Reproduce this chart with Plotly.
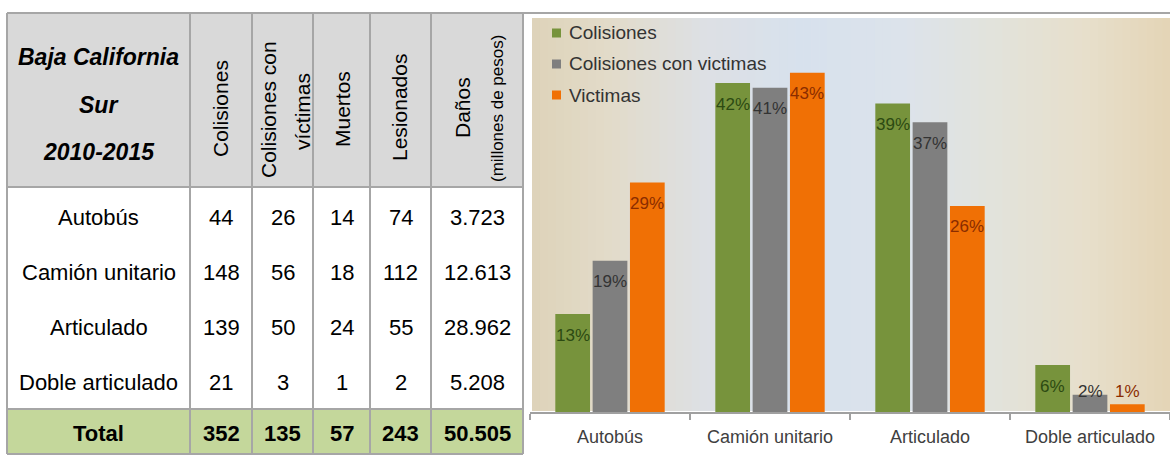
import math
import plotly.graph_objects as go

W, H = 1170, 455

# ---------------- data ----------------
row_labels = ["Autobús", "Camión unitario", "Articulado", "Doble articulado"]
colisiones = [44, 148, 139, 21]
colisiones_victimas = [26, 56, 50, 3]
muertos = [14, 18, 24, 1]
lesionados = [74, 112, 55, 2]
danos = [3.723, 12.613, 28.962, 5.208]
total_row = ["Total", "352", "135", "57", "243", "50.505"]

categories = ["Autobús", "Camión unitario", "Articulado", "Doble articulado"]
series_names = ["Colisiones", "Colisiones con victimas", "Victimas"]
pct_colisiones = [12.5, 42.0, 39.4, 6.0]
pct_col_victimas = [19.3, 41.4, 37.0, 2.2]
pct_victimas = [29.3, 43.3, 26.3, 1.0]

bar_colors = ["#77933c", "#7f7f7f", "#f07005"]
label_colors = ["#2c4a12", "#333333", "#8a2c00"]

# ---------------- helpers ----------------
def px(x):
    return x / W

def py(y):
    return 1 - y / H

FONT = "Liberation Sans, Arial, sans-serif"

fig = go.Figure()

# ---------------- chart ----------------
series = [pct_colisiones, pct_col_victimas, pct_victimas]
for name, vals, col in zip(series_names, series, bar_colors):
    fig.add_trace(go.Bar(x=categories, y=vals, name=name, marker=dict(color=col, line=dict(width=0)),
                         showlegend=False, hoverinfo="x+y+name"))

bargap = 0.3
cat_px = (W - 530) / len(categories)
slot = cat_px * (1 - bargap) / 3

annotations = []
for i, (vals, lc) in enumerate(zip(series, label_colors)):
    for cat, v in zip(categories, vals):
        lab = f"{math.floor(v + 0.5)}%"
        big = v >= 4
        annotations.append(dict(x=cat, y=v if big else 0, xref="x", yref="y", text=lab, showarrow=False,
                                xshift=(i - 1) * slot, yshift=-21 if big else 21,
                                font=dict(family=FONT, size=17, color=lc)))

# background gradient for chart area
stops = [(0.0, (222, 211, 185)), (0.12, (226, 219, 201)), (0.27, (221, 224, 228)),
         (0.42, (215, 225, 237)), (0.58, (220, 227, 235)), (0.72, (226, 227, 220)),
         (0.87, (231, 223, 203)), (1.0, (228, 213, 182))]

def grad(t):
    for (t0, c0), (t1, c1) in zip(stops[:-1], stops[1:]):
        if t0 <= t <= t1:
            f = (t - t0) / (t1 - t0)
            return "rgb(%d,%d,%d)" % tuple(round(a + (b - a) * f) for a, b in zip(c0, c1))
    return "rgb(%d,%d,%d)" % stops[-1][1]

shapes = []
n = 80
x0p, x1p = 532, 1170
for k in range(n):
    a = x0p + (x1p - x0p) * k / n
    b = x0p + (x1p - x0p) * (k + 1) / n + 0.8
    shapes.append(dict(type="rect", xref="paper", yref="paper", x0=px(a), x1=px(min(b, W)),
                       y0=py(411), y1=py(18), fillcolor=grad((k + 0.5) / n), line=dict(width=0),
                       layer="below"))

# ---------------- table ----------------
border = "#a6a6a6"
col_x = [7, 190, 252, 313, 370, 431, 523]
t_top, h_bot, tot_top, t_bot = 13, 187, 409, 454

shapes.append(dict(type="rect", xref="paper", yref="paper", x0=px(col_x[0]), x1=px(col_x[-1]),
                   y0=py(h_bot), y1=py(t_top), fillcolor="#d9d9d9", line=dict(width=0), layer="below"))
shapes.append(dict(type="rect", xref="paper", yref="paper", x0=px(col_x[0]), x1=px(col_x[-1]),
                   y0=py(t_bot), y1=py(tot_top), fillcolor="#c4d79b", line=dict(width=0), layer="below"))

def hline(y, xa, xb):
    shapes.append(dict(type="line", xref="paper", yref="paper", x0=px(xa), x1=px(xb), y0=py(y), y1=py(y),
                       line=dict(color=border, width=2)))

def vline(x, ya, yb):
    shapes.append(dict(type="line", xref="paper", yref="paper", x0=px(x), x1=px(x), y0=py(ya), y1=py(yb),
                       line=dict(color=border, width=2)))

hline(t_top, col_x[0], W)
hline(h_bot, col_x[0], col_x[-1])
hline(tot_top, col_x[0], col_x[-1])
hline(t_bot, col_x[0], col_x[-1])
for x in col_x:
    vline(x, t_top, t_bot)

def txt(x, y, s, size=21, angle=0, family=FONT, color="#000000", xanchor="center"):
    annotations.append(dict(x=px(x), y=py(y), xref="paper", yref="paper", text=s, showarrow=False,
                            textangle=angle, xanchor=xanchor, yanchor="middle",
                            font=dict(family=family, size=size, color=color)))

col_c = [(a + b) / 2 for a, b in zip(col_x[:-1], col_x[1:])]

# header
txt(col_c[0], 57, "<b><i>Baja California</i></b>", 23)
txt(col_c[0], 105, "<b><i>Sur</i></b>", 23)
txt(col_c[0], 152, "<b><i>2010-2015</i></b>", 23)
txt(220, 109, "Colisiones", 21, -90)
txt(268, 110, "Colisiones con", 21, -90)
txt(302, 112, "víctimas", 21, -90)
txt(342, 109, "Muertos", 21, -90)
txt(399, 108, "Lesionados", 21, -90)
txt(462, 108, "Daños", 21, -90)
txt(497, 109, "(millones de pesos)", 17, -90)

# body
row_y = [217, 272, 327, 382]
for r in range(4):
    cells = [row_labels[r], str(colisiones[r]), str(colisiones_victimas[r]), str(muertos[r]),
             str(lesionados[r]), f"{danos[r]:.3f}"]
    for c, s in enumerate(cells):
        txt(col_c[c], row_y[r], s, 22)
for c, s in enumerate(total_row):
    txt(col_c[c], 433, f"<b>{s}</b>", 22)

# ---------------- manual legend ----------------
leg_y = [33, 64, 95]
for name, col, y in zip(series_names, bar_colors, leg_y):
    shapes.append(dict(type="rect", xref="paper", yref="paper", x0=px(552), x1=px(561),
                       y0=py(y + 4.5), y1=py(y - 4.5), fillcolor=col, line=dict(width=0)))
    txt(567, y, name, 19, color="#333333", xanchor="left")

fig.update_layout(
    width=W, height=H, autosize=False,
    margin=dict(l=0, r=0, t=0, b=0, pad=0),
    paper_bgcolor="white", plot_bgcolor="rgba(0,0,0,0)",
    barmode="group", bargap=bargap, bargroupgap=0.07,
    xaxis=dict(domain=[px(530), 1.0], type="category", categoryorder="array", categoryarray=categories,
               showline=True, linecolor="#a0a0a0", linewidth=1.5, ticks="outside", tickson="boundaries",
               ticklen=6, tickcolor="#a0a0a0", tickwidth=1.5, showgrid=False, zeroline=False,
               tickfont=dict(family=FONT, size=18, color="#404040"), ticklabelstandoff=8, fixedrange=True),
    yaxis=dict(domain=[py(412), py(18)], range=[0, 50.3], visible=False, showgrid=False, zeroline=False,
               fixedrange=True),
    shapes=shapes, annotations=annotations,
    showlegend=False,
)

fig.write_html("out.html", config={"displayModeBar": False},
               post_script="document.body.style.margin='0';")
